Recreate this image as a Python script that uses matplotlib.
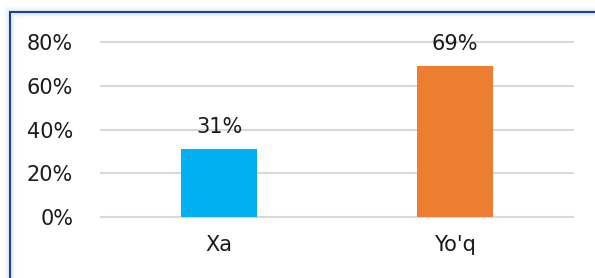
import matplotlib
matplotlib.use("agg")
import matplotlib.pyplot as plt
from matplotlib.patches import Rectangle

categories = ["Xa", "Yo'q"]
values = [31, 69]
colors = ["#00B0F0", "#ED7D31"]
yticks = [0, 20, 40, 60, 80]

plt.rcParams['font.family'] = ['DejaVu Sans']
txt = "#1A1A1A"

fig = plt.figure(figsize=(5.95, 2.78), dpi=100)
ax = fig.add_axes([101 / 595, 61 / 278, 472 / 595, 175 / 278])

x = range(len(categories))
bars = ax.bar(x, values, width=0.32, color=colors, zorder=3)
for b, v in zip(bars, values):
    ax.annotate(f"{v}%", (b.get_x() + b.get_width() / 2, v),
                xytext=(0, 9), textcoords="offset points",
                ha="center", va="bottom", fontsize=15, color=txt)

ax.set_xlim(-0.5, 1.5)
ax.set_ylim(0, 80)
ax.set_yticks(yticks)
ax.set_yticklabels([f"{t}%" for t in yticks], fontsize=15, color=txt)
ax.set_xticks(list(x))
ax.set_xticklabels(categories, fontsize=15, color=txt)
ax.tick_params(length=0)
ax.tick_params(axis="y", pad=20)
ax.tick_params(axis="x", pad=13)
ax.grid(axis="y", color="#D9D9D9", linewidth=1.5, zorder=0)
ax.set_axisbelow(True)
for gl in ax.get_ygridlines():
    gl.set_clip_on(False)
for s in ax.spines.values():
    s.set_visible(False)

# glowing frame around the chart
x0, y0 = 10 / 595, -0.2
w, h = 1.2, (278 - 12) / 278 + 0.2
for lw, a in [(9, 0.06), (7, 0.1), (5, 0.15), (3.5, 0.25)]:
    fig.patches.append(Rectangle((x0, y0), w, h, transform=fig.transFigure,
                                 fill=False, edgecolor="#BDD7EE", linewidth=lw, alpha=a))
fig.patches.append(Rectangle((x0, y0), w, h, transform=fig.transFigure,
                             fill=False, edgecolor="#1F3F8F", linewidth=1.5))

plt.savefig("out.png", dpi=100)
